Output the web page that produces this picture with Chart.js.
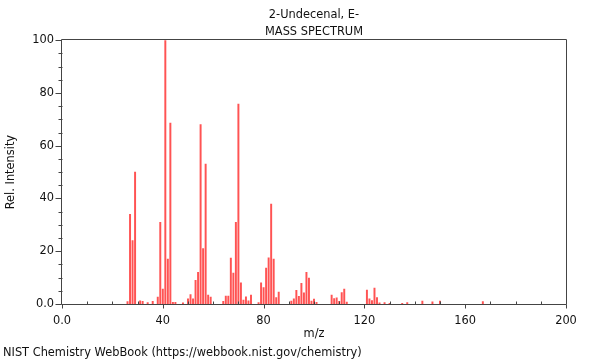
<!DOCTYPE html>
<html>
<head>
<meta charset="utf-8">
<script src="https://cdn.jsdelivr.net/npm/chart.js@4/dist/chart.umd.min.js"></script>
<style>
  html, body { margin: 0; padding: 0; background: #fff; }
</style>
</head>
<body>
<canvas id="spectrum" width="600" height="360"></canvas>
<script>
// m/z and relative intensity
const massValues = [
  26, 27, 28, 29, 31, 32, 34, 36, 38, 39, 40, 41, 42, 43, 44, 45, 48,
  50, 51, 52, 53, 54, 55, 56, 57, 58, 59,
  64, 65, 66, 67, 68, 69, 70, 71, 72, 73, 74, 75,
  78, 79, 80, 81, 82, 83, 84, 85, 86,
  91, 92, 93, 94, 95, 96, 97, 98, 99, 100, 101,
  107, 108, 109, 110, 111, 112, 113,
  121, 122, 123, 124, 125, 126, 128, 130,
  135, 137, 143, 147, 150, 167
];
const intensities = [
  0.9, 34, 24, 50, 1.2, 1, 0.5, 1, 2.6, 31, 5.7, 100, 17, 68.6, 0.6, 0.6, 0.4,
  2, 3.6, 2, 9, 12, 68, 21, 53, 3.4, 2.6,
  1, 3, 3, 17.4, 11.7, 31, 75.8, 8, 1.5, 2.7, 1.2, 3.4,
  0.5, 8, 6.2, 13.6, 17.5, 37.9, 17, 2.4, 4.5,
  1.1, 2, 5.2, 2.9, 7.8, 4.2, 12, 9.8, 1.1, 1.9, 0.6,
  3.4, 2.1, 2.3, 1, 4.3, 5.7, 0.7,
  5.3, 2, 1.3, 6, 2.4, 0.4, 0.5, 0.3,
  0.3, 0.5, 1.1, 0.8, 1.1, 0.9
];

const xMajorTicks = [0, 40, 80, 120, 160, 200];
const xMinorTicks = [10, 20, 30, 50, 60, 70, 90, 100, 110, 130, 140, 150, 170, 180, 190];
const yMajorTicks = [0, 20, 40, 60, 80, 100];
const yMinorTicks = [5, 10, 15, 25, 30, 35, 45, 50, 55, 65, 70, 75, 85, 90, 95];

const titleLines = ["2-Undecenal, E-", "MASS SPECTRUM"];
const footerText = "NIST Chemistry WebBook (https://webbook.nist.gov/chemistry)";

const FONT = "'DejaVu Sans', sans-serif";
const FSIZE = 11.4;
const fmt = (v) => (v === 0 ? "0.0" : String(v));

// box around the plot, tick marks and the footer line
const frameAndTicks = {
  id: "frameAndTicks",
  afterDraw(chart) {
    const { ctx, chartArea: a, scales: { x, y } } = chart;
    const L = Math.round(a.left) - 0.5;
    const R = Math.round(a.right) + 0.5;
    const T = Math.round(a.top) - 0.5;
    const B = Math.round(a.bottom) + 0.5;
    ctx.save();
    ctx.lineWidth = 1;
    ctx.strokeStyle = "#444";
    ctx.beginPath();
    ctx.moveTo(L, T); ctx.lineTo(R, T); ctx.lineTo(R, B); ctx.lineTo(L, B); ctx.closePath();

    xMajorTicks.forEach((v) => {
      const px = Math.round(x.getPixelForValue(v)) + 0.5;
      ctx.moveTo(px, B); ctx.lineTo(px, B + 4);
    });
    xMinorTicks.forEach((v) => {
      const px = Math.round(x.getPixelForValue(v)) + 0.5;
      ctx.moveTo(px, B); ctx.lineTo(px, B - 3);
    });
    yMajorTicks.forEach((v) => {
      const py = Math.round(y.getPixelForValue(v)) + 0.5;
      ctx.moveTo(L, py); ctx.lineTo(L - 6, py);
    });
    yMinorTicks.forEach((v) => {
      const py = Math.round(y.getPixelForValue(v)) + 0.5;
      ctx.moveTo(L + 1, py); ctx.lineTo(L - 3, py);
    });
    ctx.stroke();

    ctx.fillStyle = "#111";
    ctx.font = FSIZE + "px " + FONT;
    ctx.textAlign = "left";
    ctx.textBaseline = "middle";
    ctx.fillText(footerText, 3, 353);
    ctx.restore();
  },
};

new Chart(document.getElementById("spectrum"), {
  type: "bar",
  data: {
    datasets: [
      {
        data: massValues.map((m, i) => ({ x: m, y: intensities[i] })),
        backgroundColor: "rgba(255, 40, 40, 0.8)",
        borderWidth: 0,
        barThickness: 1.3,
      },
    ],
  },
  options: {
    responsive: false,
    animation: false,
    devicePixelRatio: 1,
    layout: { padding: { left: 0, right: 34, top: 0, bottom: 16 } },
    plugins: {
      legend: { display: false },
      tooltip: { enabled: false },
      title: {
        display: true,
        text: titleLines,
        fullSize: false,
        color: "#111",
        font: { family: FONT, size: FSIZE, weight: "normal", lineHeight: 1.5 },
        padding: { top: 6, bottom: 0 },
      },
    },
    scales: {
      x: {
        type: "linear",
        min: 0,
        max: 200,
        offset: false,
        grid: { display: false, drawTicks: false },
        border: { display: false },
        ticks: {
          stepSize: 40,
          padding: 10,
          maxRotation: 0,
          color: "#111",
          font: { family: FONT, size: FSIZE },
          callback: fmt,
        },
        title: {
          display: true,
          text: "m/z",
          color: "#111",
          font: { family: FONT, size: FSIZE },
          padding: { top: 0, bottom: 3 },
        },
        afterFit: (scale) => { scale.height = 40; },
      },
      y: {
        min: 0,
        max: 100,
        grid: { display: false, drawTicks: false },
        border: { display: false },
        ticks: {
          stepSize: 20,
          padding: 8,
          color: "#111",
          font: { family: FONT, size: FSIZE },
          callback: fmt,
        },
        title: {
          display: true,
          text: "Rel. Intensity",
          color: "#111",
          font: { family: FONT, size: FSIZE },
          padding: { top: 4, bottom: 0 },
        },
        afterFit: (scale) => { scale.width = 62; },
      },
    },
  },
  plugins: [frameAndTicks],
});
</script>
</body>
</html>
